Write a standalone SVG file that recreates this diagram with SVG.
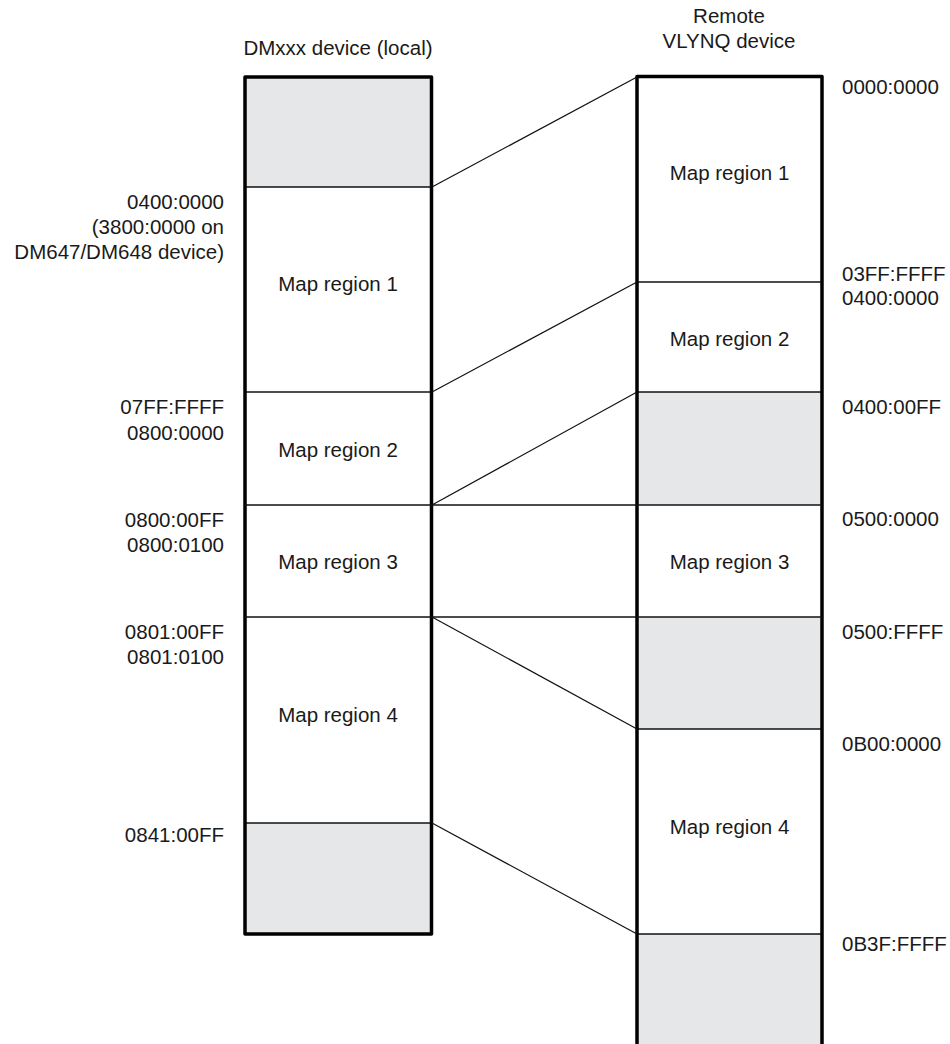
<svg xmlns="http://www.w3.org/2000/svg" width="950" height="1044" viewBox="0 0 950 1044">
<style>
text{font-family:"Liberation Sans",Arial,sans-serif;font-size:20.5px;fill:#1a1a1a}
.m{text-anchor:middle}
.e{text-anchor:end}
.g{fill:#e6e7e8;stroke:none}
.div{stroke:#111;stroke-width:1.6;fill:none}
.bd{stroke:#000;stroke-width:3.5;fill:none;stroke-linejoin:round}
.cn{stroke:#111;stroke-width:1.2;fill:none}
</style>
<rect width="950" height="1044" fill="#fff"/>
<g id="titles">
<text class="m" x="338" y="55">DMxxx device (local)</text>
<text class="m" x="729" y="23">Remote</text>
<text class="m" x="729" y="48">VLYNQ device</text>
</g>
<g id="local-device">
<rect class="g" x="245" y="77" width="186" height="110"/>
<rect class="g" x="245" y="823" width="186" height="111"/>
<line class="div" x1="245" y1="187" x2="431" y2="187"/>
<line class="div" x1="245" y1="392" x2="431" y2="392"/>
<line class="div" x1="245" y1="823" x2="431" y2="823"/>
<rect class="bd" x="245" y="77" width="186.5" height="857"/>
<text class="m" x="338" y="291">Map region 1</text>
<text class="m" x="338" y="457">Map region 2</text>
<text class="m" x="338" y="569">Map region 3</text>
<text class="m" x="338" y="722">Map region 4</text>
<text class="e" x="224" y="209">0400:0000</text>
<text class="e" x="224" y="234">(3800:0000 on</text>
<text class="e" x="224" y="259">DM647/DM648 device)</text>
<text class="e" x="224" y="414">07FF:FFFF</text>
<text class="e" x="224" y="440">0800:0000</text>
<text class="e" x="224" y="527">0800:00FF</text>
<text class="e" x="224" y="552">0800:0100</text>
<text class="e" x="224" y="639">0801:00FF</text>
<text class="e" x="224" y="664">0801:0100</text>
<text class="e" x="224" y="842">0841:00FF</text>
</g>
<g id="remote-device">
<rect class="g" x="637" y="392" width="185" height="113"/>
<rect class="g" x="637" y="617" width="185" height="112"/>
<rect class="g" x="637" y="934" width="185" height="110"/>
<line class="div" x1="637" y1="282" x2="822" y2="282"/>
<line class="div" x1="637" y1="392" x2="822" y2="392"/>
<line class="div" x1="637" y1="729" x2="822" y2="729"/>
<line class="div" x1="637" y1="934" x2="822" y2="934"/>
<path class="bd" d="M637 1046 V76.5 H822 V1046"/>
<text class="m" x="729.5" y="180">Map region 1</text>
<text class="m" x="729.5" y="346">Map region 2</text>
<text class="m" x="729.5" y="569">Map region 3</text>
<text class="m" x="729.5" y="834">Map region 4</text>
<text x="842" y="94">0000:0000</text>
<text x="842" y="281">03FF:FFFF</text>
<text x="842" y="305">0400:0000</text>
<text x="842" y="414">0400:00FF</text>
<text x="842" y="526">0500:0000</text>
<text x="842" y="639">0500:FFFF</text>
<text x="842" y="751">0B00:0000</text>
<text x="842" y="951">0B3F:FFFF</text>
</g>
<g id="connectors">
<line class="div" x1="245" y1="505" x2="822" y2="505"/>
<line class="div" x1="245" y1="617" x2="822" y2="617"/>
<line class="cn" x1="432" y1="187" x2="637" y2="77"/>
<line class="cn" x1="432" y1="392" x2="637" y2="282"/>
<line class="cn" x1="432" y1="505" x2="637" y2="392"/>
<line class="cn" x1="432" y1="617" x2="637" y2="729"/>
<line class="cn" x1="432" y1="823" x2="637" y2="934"/>
</g>
</svg>
